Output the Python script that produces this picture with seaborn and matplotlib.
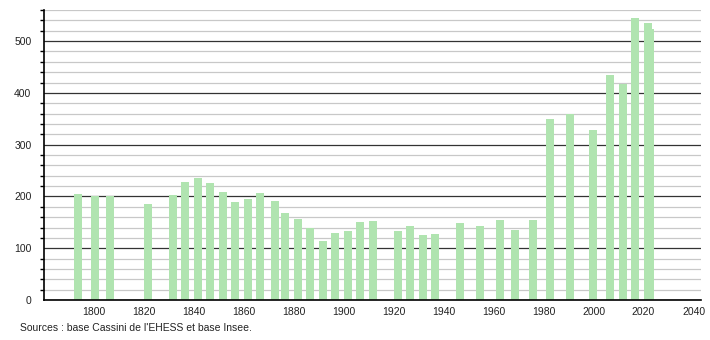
import numpy as np
import pandas as pd
import matplotlib
matplotlib.use("Agg")
import matplotlib.pyplot as plt
from matplotlib.ticker import MultipleLocator
import seaborn as sns

years = [1793, 1800, 1806, 1821, 1831, 1836, 1841, 1846, 1851, 1856, 1861, 1866,
         1872, 1876, 1881, 1886, 1891, 1896, 1901, 1906, 1911, 1921, 1926, 1931,
         1936, 1946, 1954, 1962, 1968, 1975, 1982, 1990, 1999, 2006, 2011, 2016,
         2021, 2022]
population = [205, 200, 200, 185, 203, 228, 236, 226, 209, 189, 195, 207,
              191, 168, 157, 140, 114, 129, 133, 151, 153, 133, 143, 126,
              128, 149, 143, 155, 135, 155, 350, 359, 328, 435, 418, 544,
              534, 524]
x_ticks = [1800, 1820, 1840, 1860, 1880, 1900, 1920, 1940, 1960, 1980, 2000, 2020, 2040]
y_ticks = [0, 100, 200, 300, 400, 500]
source_text = "Sources : base Cassini de l'EHESS et base Insee."

sns.set_style("white")
plt.rcParams['font.family'] = ['Liberation Sans', 'DejaVu Sans']

df = pd.DataFrame({"annee": np.array(years) + 0.6, "pop": population})

fig = plt.figure(figsize=(7.1, 3.4), dpi=100)
ax = fig.add_axes([44 / 710, 1 - 300 / 340, (701 - 44) / 710, (300 - 10) / 340])

min_gap = np.diff(sorted(df["annee"])).min()
sns.barplot(data=df, x="annee", y="pop", native_scale=True, ax=ax,
            color="#b0e4b0", saturation=1, width=3.2 / min_gap,
            linewidth=0, errorbar=None)

ax.set_xlim(1780, 2043)
ax.set_ylim(0, 560)
ax.set_xticks(x_ticks)
ax.set_xticklabels([str(t) for t in x_ticks])
ax.set_yticks(y_ticks)
ax.yaxis.set_minor_locator(MultipleLocator(20))
ax.set_xlabel("")
ax.set_ylabel("")

ax.set_axisbelow(True)
ax.grid(axis="y", which="minor", color="#c8c8c8", linewidth=0.9)
ax.grid(axis="y", which="major", color="#333333", linewidth=0.9)
ax.grid(axis="x", visible=False)

for s in ["top", "right"]:
    ax.spines[s].set_visible(False)
for s in ["left", "bottom"]:
    ax.spines[s].set_color("black")
    ax.spines[s].set_linewidth(1.2)

ax.tick_params(axis="x", length=0, pad=5, labelsize=7.5, colors="#222222")
ax.tick_params(axis="y", which="major", length=6, width=1, direction="inout",
               pad=6, labelsize=7.5, colors="#222222")
ax.tick_params(axis="y", which="minor", length=3, width=1, direction="out",
               left=True, color="black")
ax.tick_params(axis="y", which="major", color="black")

fig.text(20 / 710, 1 - 328 / 340, source_text, fontsize=7.5, color="#222222",
         va="center", ha="left")

fig.savefig("out.png", dpi=100, facecolor="white")
